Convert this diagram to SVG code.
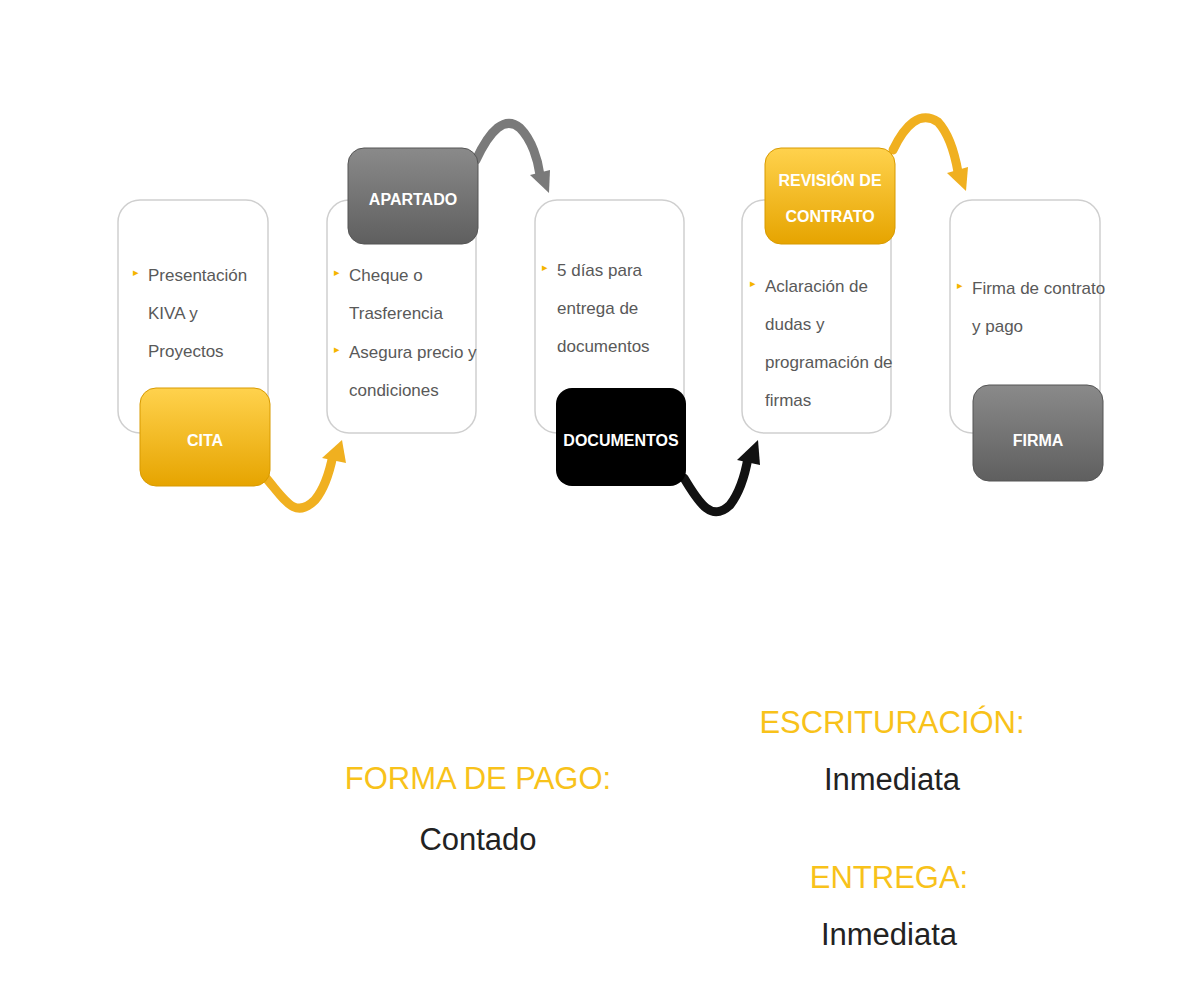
<svg xmlns="http://www.w3.org/2000/svg" width="1200" height="1000" viewBox="0 0 1200 1000">
<style>
.box{fill:#fff;stroke:#cfcfcf;stroke-width:1.5}
.t{font-family:"Liberation Sans",sans-serif;font-size:17px;fill:#595959}
.b{fill:#f5b400}
.lbl{font-family:"Liberation Sans",sans-serif;font-size:16px;font-weight:bold;fill:#fff;text-anchor:middle}
.big{font-family:"Liberation Sans",sans-serif;font-size:31px;text-anchor:middle}
.y{fill:#f8c21a}.k{fill:#222}
</style>
<defs>
<linearGradient id="gy" x1="0" y1="0" x2="0" y2="1"><stop offset="0" stop-color="#ffd24d"/><stop offset="1" stop-color="#e6a400"/></linearGradient>
<linearGradient id="gg" x1="0" y1="0" x2="0" y2="1"><stop offset="0" stop-color="#8a8a8a"/><stop offset="1" stop-color="#5f5f5f"/></linearGradient>
</defs>
<g id="connectors" fill="none" stroke-width="9" stroke-linecap="round">
<path d="M266,478 C285,500 295,520 315,500 C325,488 330,470 333,455" stroke="#f0b020"/>
<polygon points="322,458 342,440 346,463" fill="#f0b020"/>
<path d="M476,160 C490,130 505,115 520,128 C532,140 538,160 540,175" stroke="#7a7a7a"/>
<polygon points="530,175 549,193 550,170" fill="#7a7a7a"/>
<path d="M684,478 C700,505 712,522 730,505 C740,492 745,475 748,458" stroke="#111"/>
<polygon points="737,460 758,440 760,465" fill="#111"/>
<path d="M893,150 C905,125 920,110 938,122 C950,135 955,155 958,172" stroke="#f0b020"/>
<polygon points="947,173 966,191 968,167" fill="#f0b020"/>
</g>
<g id="n1">
<rect class="box" x="118" y="200" width="150" height="233" rx="22"/>
<text class="t"><tspan x="133" y="276" fill="#f5b400" font-size="11">▸</tspan><tspan x="148" y="281">Presentación</tspan><tspan x="148" y="319">KIVA y</tspan><tspan x="148" y="357">Proyectos</tspan></text>
<rect x="140" y="388" width="130" height="98" rx="16" fill="url(#gy)" stroke="#d89a00"/>
<text class="lbl" x="205" y="446">CITA</text>
</g>
<g id="n2">
<rect class="box" x="327" y="200" width="149" height="233" rx="22"/>
<text class="t"><tspan x="334" y="276" fill="#f5b400" font-size="11">▸</tspan><tspan x="349" y="281">Cheque o</tspan><tspan x="349" y="319">Trasferencia</tspan><tspan x="334" y="353" fill="#f5b400" font-size="11">▸</tspan><tspan x="349" y="358">Asegura precio y</tspan><tspan x="349" y="396">condiciones</tspan></text>
<rect x="348" y="148" width="130" height="96" rx="16" fill="url(#gg)" stroke="#555"/>
<text class="lbl" x="413" y="205">APARTADO</text>
</g>
<g id="n3">
<rect class="box" x="535" y="200" width="149" height="233" rx="22"/>
<text class="t"><tspan x="542" y="271" fill="#f5b400" font-size="11">▸</tspan><tspan x="557" y="276">5 días para</tspan><tspan x="557" y="314">entrega de</tspan><tspan x="557" y="352">documentos</tspan></text>
<rect x="556" y="388" width="130" height="98" rx="16" fill="#000"/>
<text class="lbl" x="621" y="446">DOCUMENTOS</text>
</g>
<g id="n4">
<rect class="box" x="742" y="200" width="149" height="233" rx="22"/>
<text class="t"><tspan x="750" y="287" fill="#f5b400" font-size="11">▸</tspan><tspan x="765" y="292">Aclaración de</tspan><tspan x="765" y="330">dudas y</tspan><tspan x="765" y="368">programación de</tspan><tspan x="765" y="406">firmas</tspan></text>
<rect x="765" y="148" width="130" height="96" rx="16" fill="url(#gy)" stroke="#d89a00"/>
<text class="lbl" x="830" y="186">REVISIÓN DE</text>
<text class="lbl" x="830" y="222">CONTRATO</text>
</g>
<g id="n5">
<rect class="box" x="950" y="200" width="150" height="233" rx="22"/>
<text class="t"><tspan x="957" y="289" fill="#f5b400" font-size="11">▸</tspan><tspan x="972" y="294">Firma de contrato</tspan><tspan x="972" y="332">y pago</tspan></text>
<rect x="973" y="385" width="130" height="96" rx="16" fill="url(#gg)" stroke="#555"/>
<text class="lbl" x="1038" y="446">FIRMA</text>
</g>
<text class="big y" x="478" y="789">FORMA DE PAGO:</text>
<text class="big k" x="478" y="850">Contado</text>
<text class="big y" x="892" y="733">ESCRITURACIÓN:</text>
<text class="big k" x="892" y="790">Inmediata</text>
<text class="big y" x="889" y="888">ENTREGA:</text>
<text class="big k" x="889" y="945">Inmediata</text>
</svg>
